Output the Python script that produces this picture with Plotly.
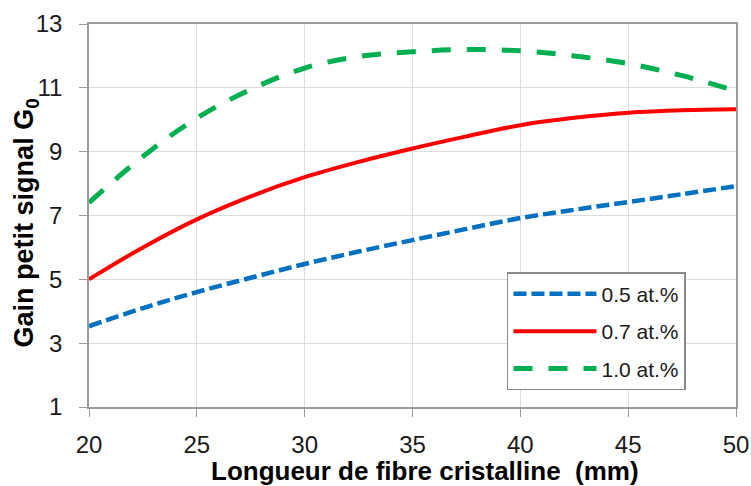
import plotly.graph_objects as go

x = [20, 22.5, 25, 27.5, 30, 32.5, 35, 37.5, 40, 42.5, 45, 47.5, 50]
blue = [3.53, 4.1, 4.6, 5.05, 5.48, 5.87, 6.23, 6.58, 6.92, 7.18, 7.42, 7.67, 7.92]
red = [5.0, 6.0, 6.88, 7.6, 8.2, 8.68, 9.1, 9.48, 9.83, 10.06, 10.22, 10.3, 10.33]
green = [7.4, 8.85, 10.05, 10.95, 11.62, 11.98, 12.13, 12.2, 12.16, 12.0, 11.76, 11.38, 10.9]
names = ["0.5 at.%", "0.7 at.%", "1.0 at.%"]
x_ticks = [20, 25, 30, 35, 40, 45, 50]
y_ticks = [1, 3, 5, 7, 9, 11, 13]

font = "Liberation Sans, Arial, sans-serif"
fig = go.Figure()
fig.add_trace(go.Scatter(x=x, y=blue, name=names[0], mode="lines", legendgroup="a",
                         line=dict(color="#0070C0", width=4.5, dash="13px,5px", shape="spline")))
fig.add_trace(go.Scatter(x=x, y=red, name=names[1], mode="lines", legendgroup="b",
                         line=dict(color="#FF0000", width=4, shape="spline")))
fig.add_trace(go.Scatter(x=x, y=green, name=names[2], mode="lines", legendgroup="c",
                         line=dict(color="#00B050", width=5, dash="19px,16px", shape="spline")))

axis_common = dict(showline=True, linecolor="#9a9a9a", linewidth=1.5, mirror=True,
                   showgrid=True, gridcolor="#dcdcdc", gridwidth=1, automargin=False,
                   ticks="outside", ticklen=8, tickcolor="#9a9a9a", zeroline=False,
                   tickfont=dict(family=font, size=24, color="#1a1a1a"))
fig.update_xaxes(range=[20, 50], tickvals=x_ticks, ticklabelstandoff=7, **axis_common)
fig.update_yaxes(range=[1, 13], tickvals=y_ticks, ticklabelstandoff=12, **axis_common)

fig.add_annotation(text="<b>Longueur de fibre cristalline  (mm)</b>", xref="paper", yref="paper",
                   x=0.519, y=-0.166, xanchor="center", yanchor="middle", showarrow=False,
                   font=dict(family=font, size=26, color="#000"))
fig.add_annotation(text="<b>Gain petit signal G<sub>0</sub></b>", xref="paper", yref="paper",
                   x=-0.097, y=0.480, xanchor="center", yanchor="middle", showarrow=False,
                   textangle=-90, font=dict(family=font, size=27, color="#000"))

fig.update_layout(
    width=751, height=486,
    margin=dict(l=89, r=15, t=24, b=79),
    paper_bgcolor="white", plot_bgcolor="white",
    showlegend=True,
    legend=dict(x=0.646, y=0.352, xanchor="left", yanchor="top",
                bgcolor="white", bordercolor="#8a8a8a", borderwidth=1.5,
                font=dict(family=font, size=21, color="#1a1a1a"),
                itemwidth=83, tracegroupgap=7),
)
fig.write_html("out.html", config={"displayModeBar": False},
               post_script="document.body.style.margin='0';document.body.style.overflow='hidden';")
